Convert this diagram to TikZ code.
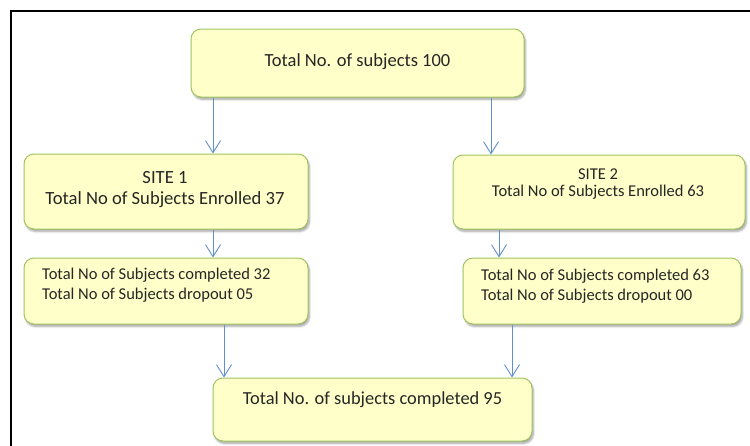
\documentclass[tikz,border=0pt]{standalone}
\usepackage{fontspec}
\setmainfont{Carlito}
\usetikzlibrary{arrows.meta,shadows.blur}
\definecolor{boxfill}{RGB}{255,255,201}
\definecolor{boxline}{RGB}{160,196,96}
\definecolor{arrowblue}{RGB}{96,142,206}
\tikzset{
  box/.style={draw=boxline, line width=1pt, fill=boxfill, rounded corners=10pt,
    blur shadow={shadow xshift=1.5pt, shadow yshift=-2.5pt, shadow blur steps=6, shadow opacity=35},
    inner sep=0pt},
  arr/.style={draw=arrowblue, line width=0.9pt, -{Straight Barb[length=12pt,width=15pt,line width=0.9pt]}},
  txt/.style={inner sep=0pt, text=black!85, align=center},
  ltxt/.style={inner sep=0pt, text=black!85, align=left, anchor=west},
}
\begin{document}
\begin{tikzpicture}[x=1pt,y=-1pt]
\useasboundingbox (0,0) rectangle (750,445);
\draw[line width=2pt] (11,450) -- (11,11) -- (755,11);
% boxes
\node[box, minimum width=333pt, minimum height=68pt] (top) at (357.5,63) {};
\node[box, minimum width=284pt, minimum height=75pt] (s1) at (166,191.5) {};
\node[box, minimum width=292pt, minimum height=74pt] (s2) at (599,192) {};
\node[box, minimum width=284pt, minimum height=66pt] (c1) at (166,291) {};
\node[box, minimum width=278pt, minimum height=66pt] (c2) at (602,291) {};
\node[box, minimum width=319pt, minimum height=63pt] (bot) at (372.5,409.5) {};
% texts
\node[txt, font=\fontsize{18.5}{18.5}\selectfont] (ttop) at (357.5,62) {Total No. of subjects 100};
\node[txt, font=\fontsize{18.6}{21}\selectfont] (ts1) at (165,189.5) {SITE 1\\Total No of Subjects Enrolled 37};
\node[txt, font=\fontsize{16.5}{17.5}\selectfont] (ts2) at (598,184) {SITE 2\\Total No of Subjects Enrolled 63};
\node[ltxt, font=\fontsize{16.5}{19.5}\selectfont] (tc1) at (42,285) {Total No of Subjects completed 32\\Total No of Subjects dropout 05};
\node[ltxt, font=\fontsize{16.5}{19.5}\selectfont] (tc2) at (481,286) {Total No of Subjects completed 63\\Total No of Subjects dropout 00};
\node[txt, font=\fontsize{18.4}{18.4}\selectfont] (tbot) at (372.5,400) {Total No. of subjects completed 95};
% arrow columns
\coordinate (xa) at (213,0);
\coordinate (xb) at (491,0);
\coordinate (xc) at (499,0);
\coordinate (xd) at (224,0);
\coordinate (xe) at (512,0);
\draw[arr] (top.south -| xa) -- (s1.north -| xa);
\draw[arr] (top.south -| xb) -- (s2.north -| xb);
\draw[arr] (s1.south -| xa) -- (c1.north -| xa);
\draw[arr] (s2.south -| xc) -- (c2.north -| xc);
\draw[arr] (c1.south -| xd) -- (bot.north -| xd);
\draw[arr] (c2.south -| xe) -- (bot.north -| xe);
\end{tikzpicture}
\end{document}
